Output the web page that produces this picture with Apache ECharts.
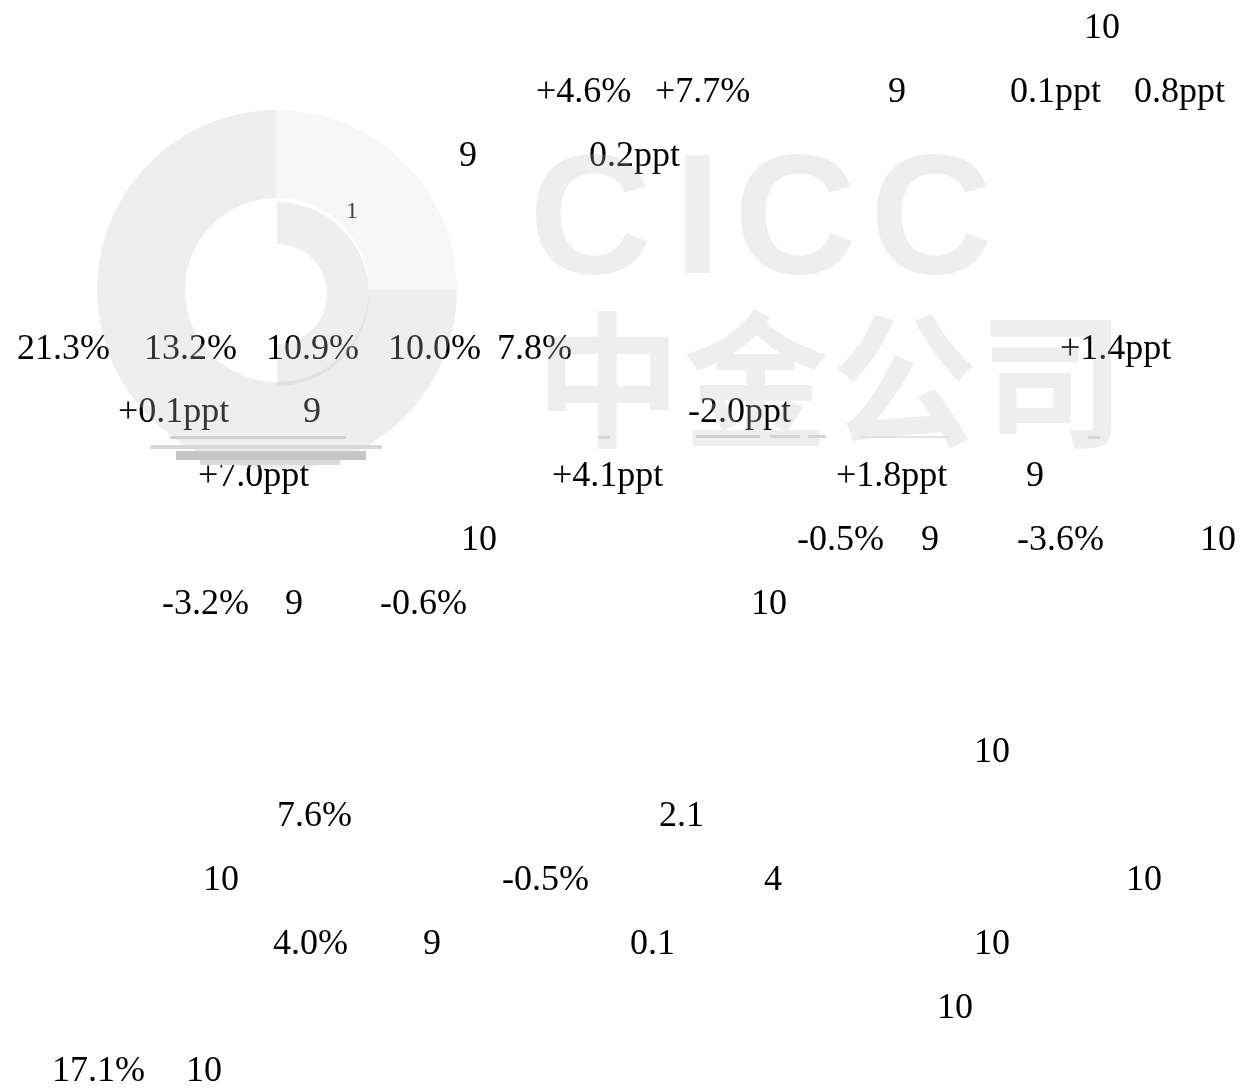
<!DOCTYPE html>
<html><head><meta charset="utf-8">
<style>html,body{margin:0;padding:0;background:#fff}#c{width:1244px;height:1090px}</style>
<script src="https://cdn.jsdelivr.net/npm/echarts@6/dist/echarts.min.js"></script>
</head><body><div id="c"></div><script>
// ---- text content (numbers left on the page, line by line) ----
const row00 = ['10'];
const row01 = ['+4.6%', '+7.7%', '9', '0.1ppt', '0.8ppt'];
const row02 = ['9', '0.2ppt'];
const row03 = ['21.3%', '13.2%', '10.9%', '10.0%', '7.8%', '+1.4ppt'];
const row04 = ['+0.1ppt', '9', '-2.0ppt'];
const row05 = ['+7.0ppt', '+4.1ppt', '+1.8ppt', '9'];
const row06 = ['10', '-0.5%', '9', '-3.6%', '10'];
const row07 = ['-3.2%', '9', '-0.6%', '10'];
const row08 = ['10'];
const row09 = ['7.6%', '2.1'];
const row10 = ['10', '-0.5%', '4', '10'];
const row11 = ['4.0%', '9', '0.1', '10'];
const row12 = ['10'];
const row13 = ['17.1%', '10'];
const smallNote = ['1'];

// watermark content
const logoOuter = [25, 75];   // ring: light quarter, darker rest
const logoInner = [50, 50];   // inner half-ring, empty half
const markLatin = ['C', 'I', 'C', 'C'];
const markCJK = ['中', '金', '公', '司'];

// ---- layout (positions kept separate from the content) ----
const rows = [row00, row01, row02, row03, row04, row05, row06, row07, row08, row09, row10, row11, row12, row13];
const rowY = [29, 93, 157, 350, 413, 477, 541, 605, 753, 817, 881, 945, 1009, 1072];
const rowX = [
  [1084],
  [536, 655, 888, 1010, 1134],
  [459, 589],
  [17, 144, 266, 388, 497, 1060],
  [118, 303, 688],
  [198, 552, 836, 1026],
  [461, 797, 921, 1017, 1200],
  [162, 285, 380, 751],
  [974],
  [277, 659],
  [203, 502, 764, 1126],
  [273, 423, 630, 974],
  [937],
  [52, 186]
];
const latinX = [529, 674, 734, 870];
const cjkX = [535, 683, 831, 979];

const FONT = '36px "Liberation Serif", "Times New Roman", serif';
const WM_DARK = 'rgba(191,191,191,0.27)';
const WM_LIGHT = 'rgba(191,191,191,0.12)';

const graphics = [];
rows.forEach((r, i) => {
  r.forEach((t, j) => {
    graphics.push({
      type: 'text', x: rowX[i][j], y: rowY[i], z: 0, silent: true,
      style: { text: t, font: FONT, fill: '#000', align: 'left', verticalAlign: 'middle' }
    });
  });
});
graphics.push({
  type: 'text', x: 346, y: 212, z: 0, silent: true,
  style: { text: smallNote[0], font: '24px "Liberation Serif", serif', fill: '#333', verticalAlign: 'middle' }
});
// watermark words
markLatin.forEach((t, i) => {
  graphics.push({
    type: 'text', x: latinX[i], y: 226, z: 50, silent: true,
    style: { text: t, font: 'bold 170px "Liberation Sans", Arial, sans-serif', fill: WM_DARK, verticalAlign: 'middle' }
  });
});
markCJK.forEach((t, i) => {
  graphics.push({
    type: 'text', x: cjkX[i], y: 380, z: 50, silent: true,
    style: { text: t, font: 'bold 146px "Noto Sans CJK SC", sans-serif', fill: WM_DARK, verticalAlign: 'middle' }
  });
});
// faint scan artifacts under the logo
const artifacts = [
  [170, 436, 176, 3, '#cfcfcf'], [150, 445, 232, 4, '#d8d8d8'], [176, 451, 190, 9, '#c6c6c6'],
  [200, 460, 140, 5, '#dadada'], [696, 435, 64, 3, '#d0d0d0'], [770, 435, 30, 3, '#d4d4d4'],
  [808, 435, 18, 3, '#d4d4d4'], [860, 436, 90, 2, '#e2e2e2'], [1088, 436, 12, 3, '#d6d6d6'],
  [598, 436, 12, 3, '#d6d6d6']
];
artifacts.forEach(a => {
  graphics.push({ type: 'rect', z: 60, silent: true, shape: { x: a[0], y: a[1], width: a[2], height: a[3] }, style: { fill: a[4] } });
});

const chart = echarts.init(document.getElementById('c'), null, { renderer: 'canvas' });
chart.setOption({
  animation: false,
  backgroundColor: '#fff',
  graphic: graphics,
  series: [
    {
      type: 'pie', z: 50, silent: true, center: [277, 290], radius: [92, 180],
      startAngle: 90, clockwise: true, label: { show: false }, labelLine: { show: false },
      data: logoOuter.map((v, i) => ({ value: v, itemStyle: { color: i === 0 ? WM_LIGHT : WM_DARK } }))
    },
    {
      type: 'pie', z: 50, silent: true, center: [277, 294], radius: [50, 92],
      startAngle: 90, clockwise: true, label: { show: false }, labelLine: { show: false },
      data: logoInner.map((v, i) => ({ value: v, itemStyle: { color: i === 0 ? WM_DARK : 'rgba(0,0,0,0)' } }))
    }
  ]
});
</script></body></html>
